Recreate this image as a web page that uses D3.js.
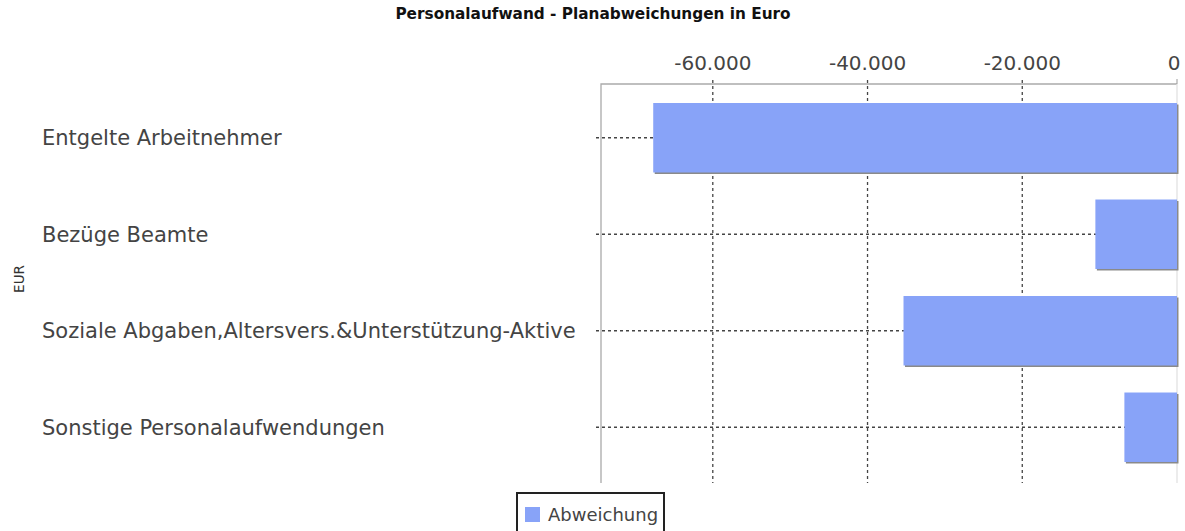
<!DOCTYPE html>
<html>
<head>
<meta charset="utf-8">
<script src="https://cdn.jsdelivr.net/npm/d3@7"></script>
<style>
  body { margin: 0; background: #fff; }
  svg { display: block; font-family: "DejaVu Sans", "Open Sans", sans-serif; }
</style>
</head>
<body>
<svg id="chart" width="1185" height="531"></svg>
<script>
const categories = [
  "Entgelte Arbeitnehmer",
  "Bezüge Beamte",
  "Soziale Abgaben,Altersvers.&Unterstützung-Aktive",
  "Sonstige Personalaufwendungen"
];
const abweichung = [-67700, -10550, -35350, -6800];
const xTicks = [-60000, -40000, -20000, 0];
const seriesName = "Abweichung";
const titleText = "Personalaufwand - Planabweichungen in Euro";
const yTitle = "EUR";

const width = 1185, height = 531;
const plot = { left: 601, right: 1177, top: 84, bottom: 483 };

const svg = d3.select("#chart");

const x = d3.scaleLinear().domain([-74450, 0]).range([plot.left, plot.right]);
const y = d3.scaleBand().domain(categories).range([89.5, 475.5])
  .paddingInner(0.28).paddingOuter(0.14);

const fmt = v => d3.format(",")(v).replace(/,/g, ".").replace("−", "-");

// title
svg.append("text")
  .attr("x", 593).attr("y", 19)
  .attr("text-anchor", "middle")
  .attr("font-size", 15.3).attr("font-weight", "bold")
  .attr("fill", "#111")
  .text(titleText);

// y axis title
svg.append("text")
  .attr("transform", "translate(24,279) rotate(-90)")
  .attr("text-anchor", "middle")
  .attr("font-size", 13.5).attr("fill", "#333")
  .text(yTitle);

// vertical gridlines
svg.append("g")
  .selectAll("line")
  .data(xTicks.filter(d => d !== 0))
  .join("line")
  .attr("x1", d => x(d)).attr("x2", d => x(d))
  .attr("y1", plot.top - 4).attr("y2", plot.bottom)
  .attr("stroke", "#444").attr("stroke-width", 1.3)
  .attr("stroke-dasharray", "3,3");

// horizontal gridlines
svg.append("g")
  .selectAll("line")
  .data(categories)
  .join("line")
  .attr("x1", plot.left - 5).attr("x2", plot.right)
  .attr("y1", d => y(d) + y.bandwidth() / 2)
  .attr("y2", d => y(d) + y.bandwidth() / 2)
  .attr("stroke", "#444").attr("stroke-width", 1.3)
  .attr("stroke-dasharray", "3,3");

// frame: top and left
svg.append("path")
  .attr("d", `M${plot.left},${plot.bottom}V${plot.top}H${plot.right}`)
  .attr("fill", "none").attr("stroke", "#aaa").attr("stroke-width", 1.3);
svg.append("line")
  .attr("x1", plot.right).attr("x2", plot.right)
  .attr("y1", plot.top).attr("y2", plot.bottom)
  .attr("stroke", "#e2e2e2").attr("stroke-width", 1.3);
svg.append("line")
  .attr("x1", plot.right).attr("x2", plot.right)
  .attr("y1", plot.top - 5).attr("y2", plot.top)
  .attr("stroke", "#999");

// top tick labels
svg.append("g")
  .selectAll("text")
  .data(xTicks)
  .join("text")
  .attr("x", d => d === 0 ? x(d) - 3 : x(d))
  .attr("y", 70)
  .attr("text-anchor", "middle")
  .attr("font-size", 20).attr("fill", "#444")
  .text(fmt);

// bars with shadow
const bars = svg.append("g");
bars.selectAll("rect.shadow")
  .data(categories)
  .join("rect")
  .attr("class", "shadow")
  .attr("x", (d, i) => x(abweichung[i]) + 1.5)
  .attr("y", d => y(d) + 1.5)
  .attr("width", (d, i) => x(0) - x(abweichung[i]))
  .attr("height", y.bandwidth())
  .attr("fill", "#8a8a8a");
bars.selectAll("rect.bar")
  .data(categories)
  .join("rect")
  .attr("class", "bar")
  .attr("x", (d, i) => x(abweichung[i]))
  .attr("y", d => y(d))
  .attr("width", (d, i) => x(0) - x(abweichung[i]))
  .attr("height", y.bandwidth())
  .attr("fill", "#88a3f8");

// category labels
svg.append("g")
  .selectAll("text")
  .data(categories)
  .join("text")
  .attr("x", 42)
  .attr("y", d => y(d) + y.bandwidth() / 2 + 7.5)
  .attr("font-size", 21).attr("fill", "#444")
  .text(d => d);

// legend
const lg = svg.append("g").attr("transform", "translate(517,493)");
lg.append("rect")
  .attr("x", 0).attr("y", 0).attr("width", 147).attr("height", 40)
  .attr("fill", "#fff").attr("stroke", "#222").attr("stroke-width", 2);
lg.append("rect")
  .attr("x", 8).attr("y", 14).attr("width", 15).attr("height", 15)
  .attr("fill", "#88a3f8");
lg.append("text")
  .attr("x", 31).attr("y", 28)
  .attr("font-size", 18).attr("fill", "#444")
  .text(seriesName);
</script>
</body>
</html>
